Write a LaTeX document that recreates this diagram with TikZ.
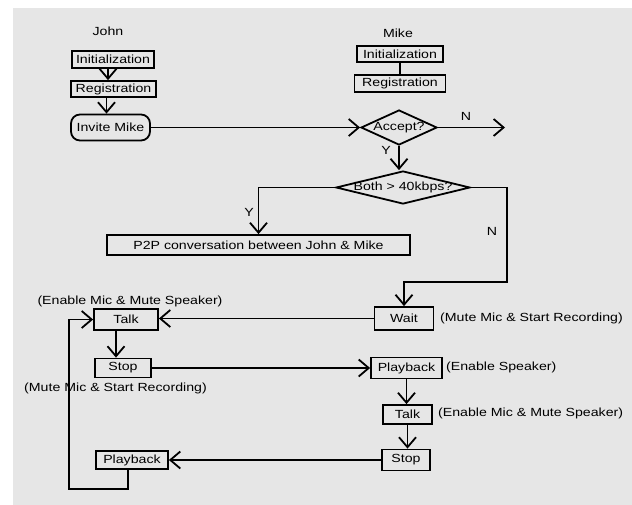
\documentclass[tikz,border=0pt]{standalone}
\usepackage{fontspec}
\setmainfont{Liberation Sans}[FakeStretch=1.2]
\usepackage{xcolor}
\usepackage{tikz}
\usetikzlibrary{arrows.meta,shapes.geometric}
\definecolor{bggray}{HTML}{E6E6E6}
\tikzset{
  box/.style={draw, line width=1.8pt, inner sep=0pt},
  decision/.style={draw, diamond, line width=1.8pt, inner sep=0pt},
  note/.style={inner sep=0pt},
  flow/.style={line width=1.8pt},
}

\begin{document}
\begin{tikzpicture}[x=1pt, y=-1pt, >={Straight Barb[length=10pt,width=17pt,line width=1.8pt]}, font=\fontsize{11.8}{14}\selectfont]
\useasboundingbox (0,0) rectangle (632,504);
\fill[bggray] (13,8) rectangle (640,512);

% John
\node[note] (john) at (108,31) {John};
\node[box, minimum width=82, minimum height=17] (jinit) at (113,59.5) {Initialization};
\node[box, minimum width=85, minimum height=16] (jreg) at (113.5,89) {Registration};
\node[box, rounded corners=9pt, minimum width=79, minimum height=26] (invite) at (110.5,127.5) {Invite Mike};

% Mike
\node[note] (mike) at (398,33) {Mike};
\node[box, minimum width=86, minimum height=16] (minit) at (400,54) {Initialization};
\node[box, minimum width=91, minimum height=17] (mreg) at (400,83.5) {Registration};
\node[decision, minimum width=76, minimum height=35, label={center:Accept?}] (accept) at (399,127.5) {};
\node[decision, minimum width=134, minimum height=33, label={center:Both > 40kbps?}] (both) at (403,187.5) {};
\node[box, minimum width=303, minimum height=20] (p2p) at (258.5,245) {P2P conversation between John \& Mike};
\node[box, minimum width=59, minimum height=23] (wait) at (404,318.5) {Wait};

% talk / playback cycle
\node[box, minimum width=64, minimum height=21] (jtalk) at (126,319.5) {Talk};
\node[box, minimum width=56, minimum height=19] (jstop) at (123,368) {Stop};
\node[box, minimum width=71, minimum height=21] (mplay) at (406.5,368) {Playback};
\node[box, minimum width=49, minimum height=19] (mtalk) at (407.5,414.5) {Talk};
\node[box, minimum width=48, minimum height=21] (mstop) at (406,460) {Stop};
\node[box, minimum width=72, minimum height=18] (jplay) at (132,460) {Playback};

% notes
\node[note, anchor=west] (waitnote) at (440,318.5) {(Mute Mic \& Start Recording)};
\node[note] (jtalknote) at (130,301) {(Enable Mic \& Mute Speaker)};
\node[note] (jstopnote) at (115.5,388) {(Mute Mic \& Start Recording)};
\node[note, anchor=west] (mplaynote) at (446,367.5) {(Enable Speaker)};
\node[note, anchor=west] (mtalknote) at (438,413) {(Enable Mic \& Mute Speaker)};

% branch letters
\node[note] (acceptn) at (466,116) {N};
\node[note] (accepty) at (386,150) {Y};
\node[note] (bothy) at (249,212) {Y};
\node[note] (bothn) at (492,231) {N};

\coordinate (reject) at (505,127.5);
\coordinate (bend) at (507,282);
\coordinate (loopA) at (128,489);
\coordinate (loopB) at (69,489);

\draw[flow,->] ([xshift=-5]jinit.south) -- ([xshift=-5]jinit.south |- jreg.north);
\draw[flow,->] ([xshift=-7]jreg.south) -- ([xshift=-7]jreg.south |- invite.north);
\draw[flow] (minit) -- (mreg);
\draw[flow,->] (invite) -- (accept);
\draw[flow,->] (accept.east) -- (reject);
\draw[flow,->] (accept.south) -- (accept.south |- both.north);
\draw[flow,->] (both.west) -| (p2p.north);
\draw[flow,->] (both.east) -| (bend) -| (wait.north);
\draw[flow,->] (wait.west) -- (wait.west -| jtalk.east);
\draw[flow,->] ([xshift=-10]jtalk.south) -- ([xshift=-10]jtalk.south |- jstop.north);
\draw[flow,->] (jstop.east) -- (jstop.east -| mplay.west);
\draw[flow,->] (mplay.south) -- (mplay.south |- mtalk.north);
\draw[flow,->] (mtalk.south) -- (mtalk.south |- mstop.north);
\draw[flow,->] (mstop.west) -- (mstop.west -| jplay.east);
\draw[flow,->] (jplay.south -| loopA) -- (loopA) -- (loopB) |- (jtalk.west);
\end{tikzpicture}
\end{document}
